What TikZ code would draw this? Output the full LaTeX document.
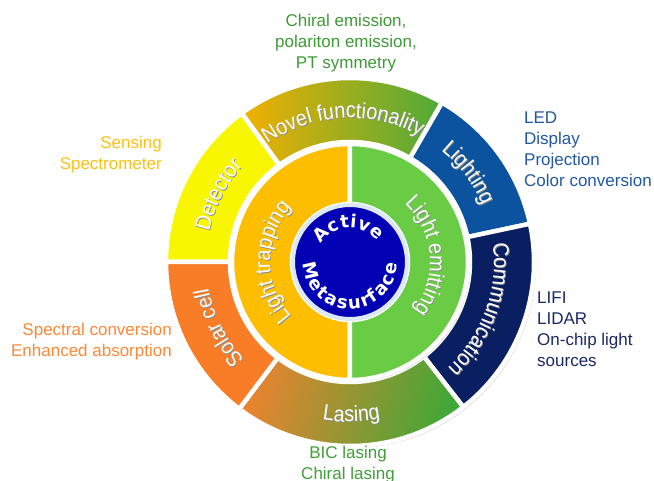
\documentclass[tikz,border=0pt]{standalone}
\usepackage{fontspec}
\setmainfont{Liberation Sans}
\newfontfamily\ringfont{Liberation Sans}[FakeStretch=0.9]
\newfontfamily\corefont{DejaVu Sans}
\usetikzlibrary{decorations.text,shadows}

\definecolor{detcol}{HTML}{F8F600}
\definecolor{novelleft}{HTML}{F3B000}
\definecolor{novelmid}{HTML}{E4B21C}
\definecolor{novelright}{HTML}{4EAA3A}
\definecolor{lightcol}{HTML}{0B539E}
\definecolor{commcol}{HTML}{0A1E62}
\definecolor{laseleft}{HTML}{E8842F}
\definecolor{lasemid}{HTML}{A69A33}
\definecolor{laseright}{HTML}{3DA837}
\definecolor{solarcol}{HTML}{F97D27}
\definecolor{trapcol}{HTML}{FDBE00}
\definecolor{emitcol}{HTML}{6ACC44}
\definecolor{corecol}{HTML}{0202B4}
\definecolor{halocol}{HTML}{DDE8F6}
\definecolor{noveltxt}{HTML}{3D9B35}
\definecolor{lighttxt}{HTML}{2058A5}
\definecolor{commtxt}{HTML}{1A2868}
\definecolor{dettxt}{HTML}{FFC010}
\definecolor{solartxt}{HTML}{FF8736}
\definecolor{lasetxt}{HTML}{3F9F38}

% annulus piece: start angle, end angle, inner radius, outer radius
\newcommand{\ringpath}[4]{(#1:#4) arc[start angle=#1, end angle=#2, radius=#4] -- (#2:#3) arc[start angle=#2, end angle=#1, radius=#3] -- cycle}
% white curved label with a soft shadow: start, end, radius, size, text
\newcommand{\arclabel}[5]{%
  \path[shift={(0.8,-0.8)}, decorate, decoration={text along path, text align=center,
      text={|\ringfont\fontsize{#4}{#4}\selectfont\color{black!45}|#5}}]
    (#1:#3) arc[start angle=#1, end angle=#2, radius=#3];
  \path[decorate, decoration={text along path, text align=center,
      text={|\ringfont\fontsize{#4}{#4}\selectfont\color{white}|#5}}]
    (#1:#3) arc[start angle=#1, end angle=#2, radius=#3];}

\begin{document}
\begin{tikzpicture}[x=1pt, y=1pt,
    segment/.style={draw=white, line width=4.5pt, line join=round,
      drop shadow={shadow xshift=2.2pt, shadow yshift=-2.2pt, opacity=.25}},
    note/.style={font=\fontsize{17}{21}\selectfont, inner sep=0pt}]
  \useasboundingbox (-350,-219) rectangle (304,262);

  % outer ring
  \path[segment, fill=detcol] \ringpath{126}{180}{120}{184};
  \path[segment, left color=novelleft, middle color=novelmid, right color=novelright] \ringpath{60}{126}{120}{184};
  \path[segment, fill=lightcol] \ringpath{12}{60}{120}{184};
  \path[segment, fill=commcol] \ringpath{-52}{12}{120}{184};
  \path[segment, left color=laseleft, middle color=lasemid, right color=laseright, shading angle=75] \ringpath{-127}{-52}{120}{184};
  \path[segment, fill=solarcol] \ringpath{180}{233}{120}{184};

  % inner ring
  \path[segment, fill=trapcol] \ringpath{90}{270}{58}{118};
  \path[segment, fill=emitcol] \ringpath{-90}{90}{58}{118};

  \node[circle, fill=corecol, draw=halocol, line width=4pt, minimum size=114pt] (core) at (0,0) {};

  \arclabel{180}{126}{144}{22}{Detector}
  \arclabel{132}{54}{144}{22}{Novel functionality}
  \arclabel{62}{12}{144}{22}{Lighting}
  \arclabel{12}{-52}{144}{22}{Communication}
  \arclabel{-127}{-52}{160}{22}{Lasing}
  \arclabel{233}{180}{144}{22}{Solar cell}
  \arclabel{262}{98}{80}{22}{Light trapping}
  \arclabel{88}{-78}{80}{22}{Light emitting}

  \path[decorate, decoration={text along path, text align=fit to path,
      text={|\corefont\bfseries\fontsize{18}{18}\selectfont\color{white}|Active}}]
    (148:34) arc[start angle=148, end angle=38, radius=34];
  \path[decorate, decoration={text along path, text align=fit to path,
      text={|\corefont\bfseries\fontsize{18}{18}\selectfont\color{white}|Metasurface}}]
    (182:47) arc[start angle=182, end angle=358, radius=47];

  % applications
  \node[note, align=center, text=noveltxt] (novelapps) at (-4,219) {Chiral emission,\\polariton emission,\\PT symmetry};
  \node[note, align=left, anchor=west, text=lighttxt] (lightapps) at (174,113) {LED\\Display\\Projection\\Color conversion};
  \node[note, align=right, anchor=east, text=dettxt] (detapps) at (-188,107) {Sensing\\Spectrometer};
  \node[note, align=right, anchor=east, text=solartxt] (solarapps) at (-178,-80) {Spectral conversion\\Enhanced absorption};
  \node[note, align=left, anchor=west, text=commtxt] (commapps) at (187,-67) {LIFI\\LIDAR\\On-chip light\\sources};
  \node[note, align=center, text=lasetxt] (laseapps) at (-2,-203) {BIC lasing\\Chiral lasing};
\end{tikzpicture}
\end{document}
